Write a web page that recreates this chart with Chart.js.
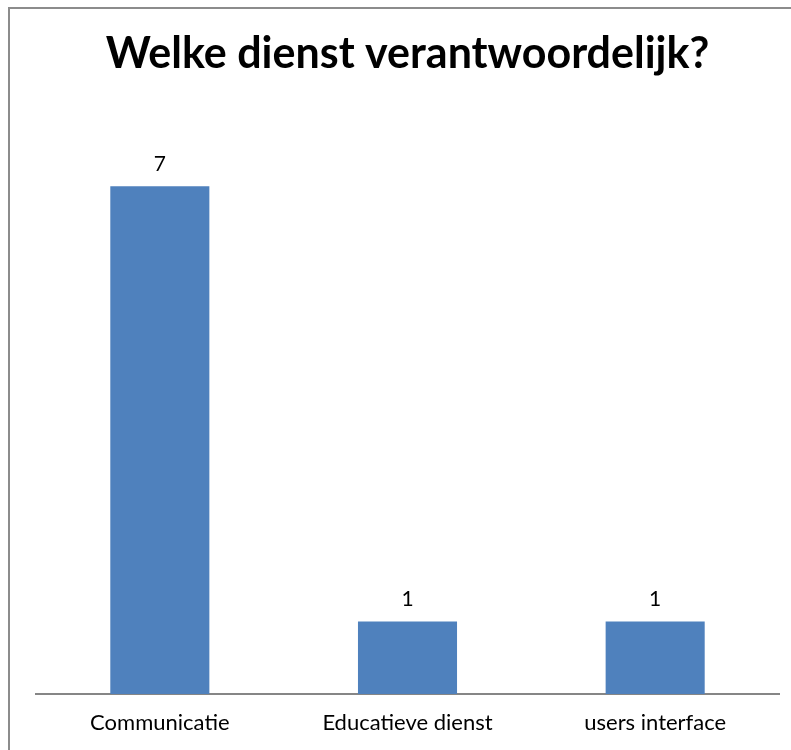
<!DOCTYPE html>
<html>
<head>
<meta charset="utf-8">
<script src="https://cdn.jsdelivr.net/npm/chart.js@4"></script>
<style>
  html, body { margin: 0; padding: 0; background: #fff; }
  #chart { display: block; }
</style>
</head>
<body>
<canvas id="chart" width="791" height="750"></canvas>
<script>
// gegevens
const categories = ['Communicatie', 'Educatieve dienst', 'users interface'];
const counts = [7, 1, 1];

const FONT = 'Lato, "Open Sans", sans-serif';

// grijze rand rond de grafiek
const frame = {
    id: 'frame',
    beforeDraw(chart) {
        const ctx = chart.ctx;
        ctx.save();
        ctx.fillStyle = '#fff';
        ctx.fillRect(0, 0, chart.width, chart.height);
        ctx.strokeStyle = '#8c8c8c';
        ctx.lineWidth = 2;
        ctx.strokeRect(9, 8, chart.width + 20, chart.height + 20);
        ctx.restore();
    }
};

// waarde boven elke staaf
const valueLabels = {
    id: 'valueLabels',
    afterDatasetsDraw(chart) {
        const ctx = chart.ctx;
        const meta = chart.getDatasetMeta(0);
        ctx.save();
        ctx.font = '21px ' + FONT;
        ctx.fillStyle = '#000';
        ctx.textAlign = 'center';
        ctx.textBaseline = 'alphabetic';
        meta.data.forEach((bar, i) => {
            ctx.fillText(String(counts[i]), bar.x, bar.y - 15);
        });
        ctx.restore();
    }
};

new Chart(document.getElementById('chart'), {
    type: 'bar',
    data: {
        labels: categories,
        datasets: [{
            data: counts,
            backgroundColor: '#4f81bd',
            borderWidth: 0,
            categoryPercentage: 1,
            barPercentage: 0.4
        }]
    },
    options: {
        responsive: false,
        animation: false,
        layout: { padding: { left: 36, right: 12, top: 0, bottom: 0 } },
        plugins: {
            legend: { display: false },
            tooltip: { enabled: false },
            title: {
                display: true,
                text: 'Welke dienst verantwoordelijk?',
                color: '#000',
                font: { family: FONT, size: 43, weight: 'bold', lineHeight: 1.2 },
                padding: { top: 28, bottom: 34 }
            }
        },
        scales: {
            x: {
                grid: { display: false, drawTicks: false },
                border: { display: true, color: '#868686', width: 2 },
                ticks: { color: '#000', font: { family: FONT, size: 22 }, padding: 16 },
                afterFit(scale) { scale.height = 56; }
            },
            y: {
                display: false,
                min: 0,
                max: 8
            }
        }
    },
    plugins: [frame, valueLabels]
});
</script>
</body>
</html>
